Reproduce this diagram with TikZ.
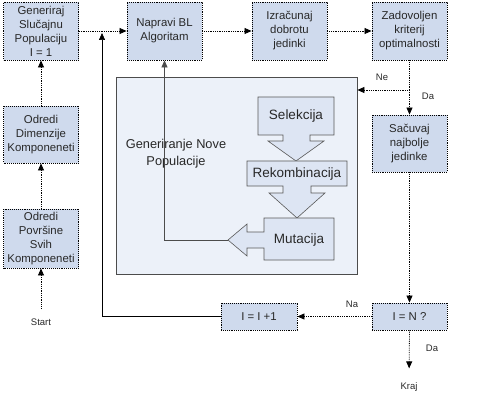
\documentclass[tikz,border=0pt]{standalone}
\usepackage{fontspec}
\setmainfont{Liberation Sans}
\usetikzlibrary{arrows.meta}
\definecolor{boxfill}{RGB}{207,218,237}
\definecolor{innerfill}{RGB}{221,229,243}
\definecolor{panelfill}{RGB}{236,241,249}
\definecolor{txt}{RGB}{40,40,40}
\begin{document}
\begin{tikzpicture}[x=1pt,y=-1pt,
  box/.style={draw=black, densely dotted, line width=0.9pt, fill=boxfill,
    minimum width=75pt, minimum height=58pt, inner sep=1pt, align=center,
    font=\fontsize{11.4}{14}\selectfont, text=txt},
  smallbox/.style={box, minimum height=27pt},
  inner/.style={draw=black!65, line width=0.6pt, fill=innerfill},
  innertext/.style={font=\fontsize{13.5}{15}\selectfont, text=txt, inner sep=0pt},
  lbl/.style={font=\fontsize{9.5}{11}\selectfont, text=txt, inner sep=0pt},
  conn/.style={black, densely dotted, line width=0.8pt, -{Triangle[length=7pt,width=6pt]}},
  solidconn/.style={black, line width=0.7pt, -{Triangle[length=7pt,width=6pt]}},
  greyconn/.style={black!70, line width=0.7pt, -{Triangle[length=7pt,width=6pt]}}]
\useasboundingbox (0,0) rectangle (482,401);
% panel
\node[draw=black!70, line width=0.8pt, fill=panelfill, minimum width=241pt, minimum height=197pt, inner sep=0pt] (panel) at (236.5,175.5) {};
\node[font=\fontsize{12.8}{17}\selectfont, text=txt, align=center, inner sep=0pt] (gnp) at (176,153.5) {Generiranje Nove\\Populacije};
% inner block arrows
\draw[inner] (258,97) -- (334,97) -- (334,135) -- (310,135) -- (310,141) -- (324,141) -- (296,161) -- (268,141) -- (283,141) -- (283,135) -- (258,135) -- cycle;
\node[innertext] (sel) at (296,116) {Selekcija};
\draw[inner] (247,161) -- (347,161) -- (347,186) -- (311,186) -- (311,193) -- (325,193) -- (297,218) -- (269,193) -- (283,193) -- (283,186) -- (247,186) -- cycle;
\node[innertext] (rek) at (297,174) {Rekombinacija};
\draw[inner] (264,218) -- (334,218) -- (334,260) -- (264,260) -- (264,248) -- (247,248) -- (247,256) -- (228,240) -- (247,224) -- (247,232) -- (264,232) -- cycle;
\node[innertext] (mut) at (299,240) {Mutacija};
\coordinate (mt) at (228,240);
% boxes
\node[box] (gen) at (41,31) {Generiraj\\Slučajnu\\Populaciju\\I = 1};
\node[box] (nap) at (164.5,31) {Napravi BL\\Algoritam};
\node[box] (izr) at (289.5,31) {Izračunaj\\dobrotu\\jedinki};
\node[box] (zad) at (409.5,31) {Zadovoljen\\kriterij\\optimalnosti};
\node[box, minimum height=57pt] (dim) at (41,134.5) {Odredi\\Dimenzije\\Komponeneti};
\node[box, minimum height=59pt] (pov) at (41,238.5) {Odredi\\Površine\\Svih\\Komponeneti};
\node[box, minimum height=57pt] (sac) at (409.5,143.5) {Sačuvaj\\najbolje\\jedinke};
\node[smallbox] (ien) at (409.5,316.5) {I = N ?};
\node[smallbox, minimum width=76pt] (iip) at (259,316.5) {I = I +1};
% text labels
\node[lbl] (start) at (41,322) {Start};
\node[lbl] (kraj) at (409,387) {Kraj};
\node[lbl] (ne) at (382,77) {Ne};
\node[lbl] (da1) at (428,96) {Da};
\node[lbl] (na) at (352,304) {Na};
\node[lbl] (da2) at (432,348) {Da};
\coordinate (lj) at (102,31);
\coordinate (zj) at (409.5,90);
% connectors
\draw[conn] ([yshift=10pt]start.north) -- (pov.south);
\draw[conn] (pov.north) -- (dim.south);
\draw[conn] (dim.north) -- (gen.south);
\draw[conn] (gen.east) -- (nap.west);
\draw[conn] (nap.east) -- (izr.west);
\draw[conn] (izr.east) -- (zad.west);
\draw[black, densely dotted, line width=0.8pt] (zad.south) -- (zj);
\draw[conn] (zj) -- (panel.east |- zj);
\draw[conn] (zj) -- (sac.north);
\draw[conn] (sac.south) -- (ien.north);
\draw[conn] (ien.west) -- (iip.east);
\draw[conn, shorten >=14pt] (ien.south) -- (kraj.north);
\draw[solidconn] (iip.west) -| ([yshift=-2pt]lj);
\draw[greyconn] (mt) -| (nap.south);
\end{tikzpicture}
\end{document}
